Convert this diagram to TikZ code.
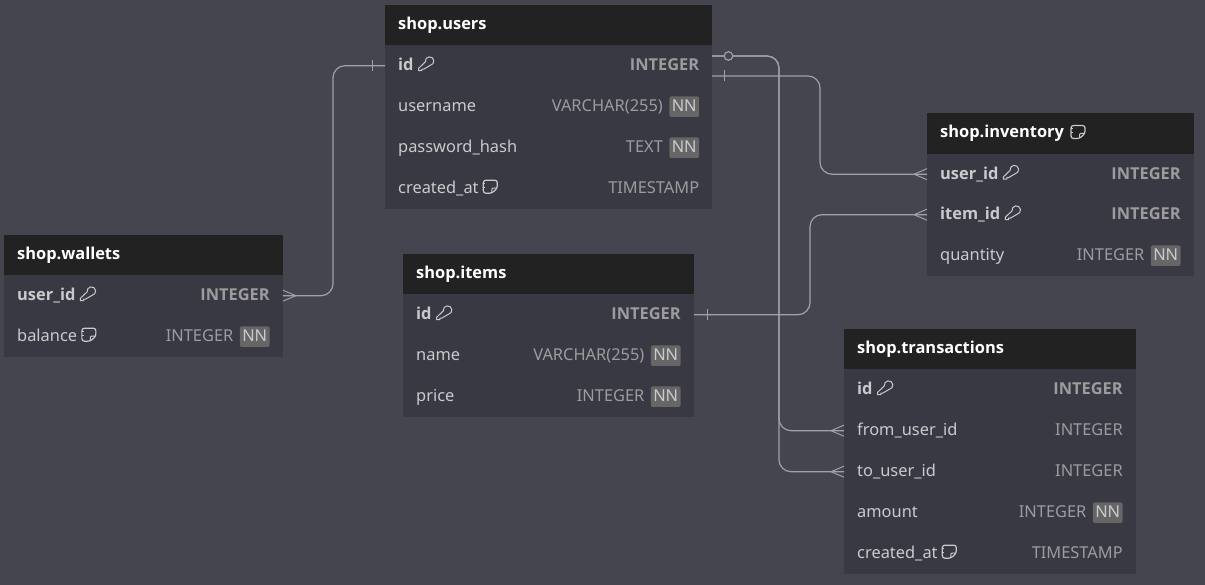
\documentclass[tikz,border=0pt]{standalone}
\usepackage{fontspec}
\setmainfont{Noto Sans}[BoldFont={Open Sans Bold}]
\usepackage{xcolor}
\usetikzlibrary{positioning}
\definecolor{canvas}{HTML}{44454F}
\definecolor{headfill}{HTML}{222222}
\definecolor{bodyfill}{HTML}{383942}
\definecolor{relcolor}{HTML}{A0A0AB}
\definecolor{namecolor}{HTML}{CACACD}
\definecolor{typecolor}{HTML}{9C9C9F}
\definecolor{nnfill}{HTML}{666666}

% one table row: [style] {name} {position} {width} {field} {type}
\newcommand{\dbrow}[6][]{
  \node[rowbox, minimum width=#4pt] (#2) at (#3) {};
  \node[fieldname, #1, right=13pt of #2.west] (#2-name) {#5};
  \node[fieldtype, #1, left=13pt of #2.east] (#2-type) {#6};
}
% same row, with the NN badge
\newcommand{\dbrownn}[5]{
  \node[rowbox, minimum width=#3pt] (#1) at (#2) {};
  \node[fieldname, right=13pt of #1.west] (#1-name) {#4};
  \node[nnbadge, left=13pt of #1.east] (#1-nn) {NN};
  \node[fieldtype, left=6pt of #1-nn] (#1-type) {#5};
}

\begin{document}
\begin{tikzpicture}[
    x=1pt, y=-1pt,
    headbox/.style={anchor=north west, fill=headfill, text=white, font=\fontsize{16.4}{18}\selectfont\bfseries,
      minimum height=40.5pt, text width=#1pt-26pt, inner xsep=13pt, inner ysep=0pt, align=left, text height=12pt, text depth=4pt},
    rowbox/.style={anchor=north west, fill=bodyfill, minimum height=41pt, inner sep=0pt},
    fieldname/.style={inner sep=0pt, text=namecolor, font=\fontsize{16.4}{18}\selectfont, text height=13pt, text depth=3pt},
    fieldtype/.style={inner sep=0pt, text=typecolor, font=\fontsize{16.4}{18}\selectfont, text height=13pt, text depth=3pt},
    keyfield/.style={font=\fontsize{16.4}{18}\selectfont\bfseries},
    nnbadge/.style={fill=nnfill, rounded corners=2pt, text=namecolor, font=\fontsize{16.4}{18}\selectfont,
      minimum height=20.5pt, inner xsep=2.5pt, inner ysep=0pt, text height=13pt, text depth=3pt},
    relline/.style={draw=relcolor, line width=1.2pt, rounded corners=12pt},
    relmark/.style={draw=relcolor, line width=1pt},
    keyicon/.pic={
      \draw[namecolor, line width=1pt, line join=round, scale=.95] (0.6,-3) arc[start angle=-190, end angle=80, radius=4.5]
        -- (-1,4.6) -- (-3,4.6) -- (-3,6.3) -- (-6.5,6.3) -- (-6.5,3.8) -- cycle;
    },
    noteicon/.pic={
      \draw[namecolor, line width=1.2pt, rounded corners=2.5pt] (7,1.5) -- (7,-6.5) -- (-7,-6.5) -- (-7,6.5) -- (1.5,6.5) -- cycle;
      \draw[namecolor, line width=1pt] (6.5,1.5) -- (2.5,1.5) -- (1.5,2.5) -- (1.5,6);
      \draw[namecolor, line width=1pt] (-7,-3) -- (-5,-3) (-7,1) -- (-5,1);
    },
    crowfoot/.pic={
      \draw[relmark] (-13,0) -- (0,-5.5) (-13,0) -- (0,5.5);
    },
    onetick/.pic={
      \draw[relmark] (0,-5.5) -- (0,5.5);
    }
]
\useasboundingbox (0,0) rectangle (1205,585);
\fill[canvas] (0,0) rectangle (1205,585);

% shop.users
\node[headbox=327] (users) at (385,5) {shop.users};
\dbrow[keyfield]{users-id}{385,45}{327}{id}{INTEGER}
\dbrownn{users-username}{385,86}{327}{username}{VARCHAR(255)}
\dbrownn{users-hash}{385,127}{327}{password\_hash}{TEXT}
\dbrow{users-created}{385,168}{327}{created\_at}{TIMESTAMP}
\pic at ([xshift=11pt,yshift=1pt]users-id-name.east) {keyicon};
\pic at ([xshift=11.5pt,yshift=2pt]users-created-name.east) {noteicon};

% shop.wallets
\node[headbox=278.5] (wallets) at (4,235) {shop.wallets};
\dbrow[keyfield]{wallets-user}{4,275}{278.5}{user\_id}{INTEGER}
\dbrownn{wallets-balance}{4,316}{278.5}{balance}{INTEGER}
\pic at ([xshift=11pt,yshift=1pt]wallets-user-name.east) {keyicon};
\pic at ([xshift=11.5pt,yshift=2pt]wallets-balance-name.east) {noteicon};

% shop.items
\node[headbox=290.5] (items) at (403,254) {shop.items};
\dbrow[keyfield]{items-id}{403,294}{290.5}{id}{INTEGER}
\dbrownn{items-name}{403,335}{290.5}{name}{VARCHAR(255)}
\dbrownn{items-price}{403,376}{290.5}{price}{INTEGER}
\pic at ([xshift=11pt,yshift=1pt]items-id-name.east) {keyicon};

% shop.inventory
\node[headbox=266.5] (inventory) at (927,113) {shop.inventory};
\dbrow[keyfield]{inventory-user}{927,153.5}{266.5}{user\_id}{INTEGER}
\dbrow[keyfield]{inventory-item}{927,194}{266.5}{item\_id}{INTEGER}
\dbrownn{inventory-qty}{927,235}{266.5}{quantity}{INTEGER}
\pic at (1078,132) {noteicon};
\pic at ([xshift=11pt,yshift=1pt]inventory-user-name.east) {keyicon};
\pic at ([xshift=11pt,yshift=1pt]inventory-item-name.east) {keyicon};

% shop.transactions
\node[headbox=291.5] (transactions) at (844,329) {shop.transactions};
\dbrow[keyfield]{trans-id}{844,369}{291.5}{id}{INTEGER}
\dbrow{trans-from}{844,410}{291.5}{from\_user\_id}{INTEGER}
\dbrow{trans-to}{844,451}{291.5}{to\_user\_id}{INTEGER}
\dbrownn{trans-amount}{844,492}{291.5}{amount}{INTEGER}
\dbrow{trans-created}{844,533}{291.5}{created\_at}{TIMESTAMP}
\pic at ([xshift=11pt,yshift=1pt]trans-id-name.east) {keyicon};
\pic at ([xshift=11.5pt,yshift=2pt]trans-created-name.east) {noteicon};

% Relaciones
\coordinate (users-out-a) at (712,56);
\coordinate (users-out-b) at (712,76);
\coordinate (bend-wallets) at (333,180);
\coordinate (bend-trans) at (779,250);
\coordinate (bend-inv) at (820,120);
\coordinate (bend-items) at (810,260);

\draw[relline] (wallets-user.east) -| (bend-wallets) |- (users-id.west);
\draw[relline] (users-out-a) -| (bend-trans) |- (trans-from.west);
\draw[relline] (users-out-a) -| (bend-trans) |- (trans-to.west);
\draw[relline] (users-out-b) -| (bend-inv) |- (inventory-user.west);
\draw[relline] (items-id.east) -| (bend-items) |- (inventory-item.west);

\pic[xscale=-1] at (wallets-user.east) {crowfoot};
\pic at (inventory-user.west) {crowfoot};
\pic at (inventory-item.west) {crowfoot};
\pic at (trans-from.west) {crowfoot};
\pic at (trans-to.west) {crowfoot};
\pic at ([xshift=-13pt]users-id.west) {onetick};
\pic at ([xshift=12pt]users-out-b) {onetick};
\pic at ([xshift=14pt]items-id.east) {onetick};
\node[circle, draw=relcolor, fill=canvas, line width=1.2pt, minimum size=8.5pt, inner sep=0pt] (users-opt) at (728.5,56) {};

\end{tikzpicture}
\end{document}
